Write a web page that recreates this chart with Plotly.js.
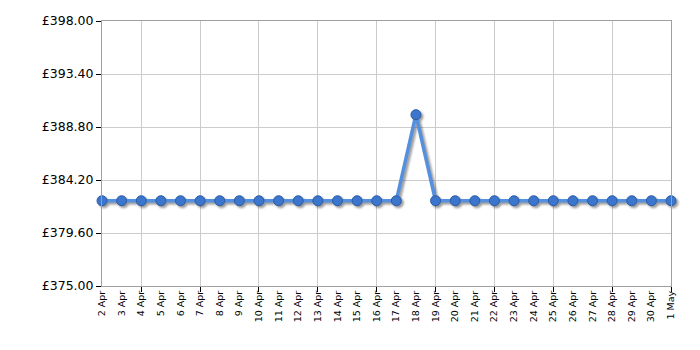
<!DOCTYPE html>
<html>
<head>
<meta charset="utf-8">
<script src="https://cdn.plot.ly/plotly-3.0.1.min.js"></script>
<style>
html,body{margin:0;padding:0;background:#fff;}
#chart{width:700px;height:350px;}
#chart .scatterlayer .trace{filter:drop-shadow(2px 2px 1px rgba(0,0,0,0.4));}
</style>
</head>
<body>
<div id="chart"></div>
<script>
const dateLabels = ["2 Apr","3 Apr","4 Apr","5 Apr","6 Apr","7 Apr","8 Apr","9 Apr","10 Apr","11 Apr","12 Apr","13 Apr","14 Apr","15 Apr","16 Apr","17 Apr","18 Apr","19 Apr","20 Apr","21 Apr","22 Apr","23 Apr","24 Apr","25 Apr","26 Apr","27 Apr","28 Apr","29 Apr","30 Apr","1 May"];
const prices = [382.4,382.4,382.4,382.4,382.4,382.4,382.4,382.4,382.4,382.4,382.4,382.4,382.4,382.4,382.4,382.4,389.87,382.4,382.4,382.4,382.4,382.4,382.4,382.4,382.4,382.4,382.4,382.4,382.4,382.4];
const gridDates = ["4 Apr","7 Apr","10 Apr","13 Apr","16 Apr","19 Apr","22 Apr","25 Apr","28 Apr","1 May"];
const yTicks = [375, 379.6, 384.2, 388.8, 393.4, 398];
const yTickLabels = ["£375.00","£379.60","£384.20","£388.80","£393.40","£398.00"];

const xIdx = dateLabels.map((d, i) => i);
const gridIdx = gridDates.map(d => dateLabels.indexOf(d));
const n = dateLabels.length - 1;

const font = {family: "DejaVu Sans, Verdana, sans-serif", color: "#000"};

const traces = [
  { // grid carrier
    x: xIdx, y: prices, xaxis: "x2", yaxis: "y", mode: "markers",
    marker: {size: 1, opacity: 0}, hoverinfo: "skip", showlegend: false
  },
  {
    x: xIdx, y: prices, mode: "lines+markers", cliponaxis: false,
    line: {color: "#5590df", width: 3.5},
    marker: {size: 10, color: "#3b76cc", line: {color: "#2a5aa5", width: 1}},
    showlegend: false
  }
];

const layout = {
  width: 700, height: 350,
  margin: {l: 102, r: 29, t: 21, b: 64},
  paper_bgcolor: "#fff", plot_bgcolor: "#fff",
  showlegend: false,
  xaxis: {
    type: "linear", range: [0, n], tickmode: "array", tickvals: xIdx, ticktext: dateLabels,
    tickangle: -90, tickfont: Object.assign({size: 9.5}, font),
    showgrid: false, zeroline: false, ticks: "",
    showline: true, linecolor: "#a0a0a0", linewidth: 1, mirror: true
  },
  xaxis2: {
    type: "linear", overlaying: "x", anchor: "y", side: "bottom", range: [0, n],
    tickmode: "array", tickvals: gridIdx, showticklabels: false,
    showgrid: true, gridcolor: "#cccccc", gridwidth: 1, zeroline: false,
    ticks: "outside", ticklen: 5, tickcolor: "#000", tickwidth: 1, showline: false
  },
  yaxis: {
    range: [375, 398], tickmode: "array", tickvals: yTicks, ticktext: yTickLabels,
    tickfont: Object.assign({size: 12.5}, font),
    showgrid: true, gridcolor: "#cccccc", gridwidth: 1, zeroline: false,
    ticks: "outside", ticklen: 5, tickcolor: "#000",
    showline: true, linecolor: "#a0a0a0", linewidth: 1, mirror: true
  }
};

Plotly.newPlot("chart", traces, layout, {displayModeBar: false, staticPlot: true});
</script>
</body>
</html>
